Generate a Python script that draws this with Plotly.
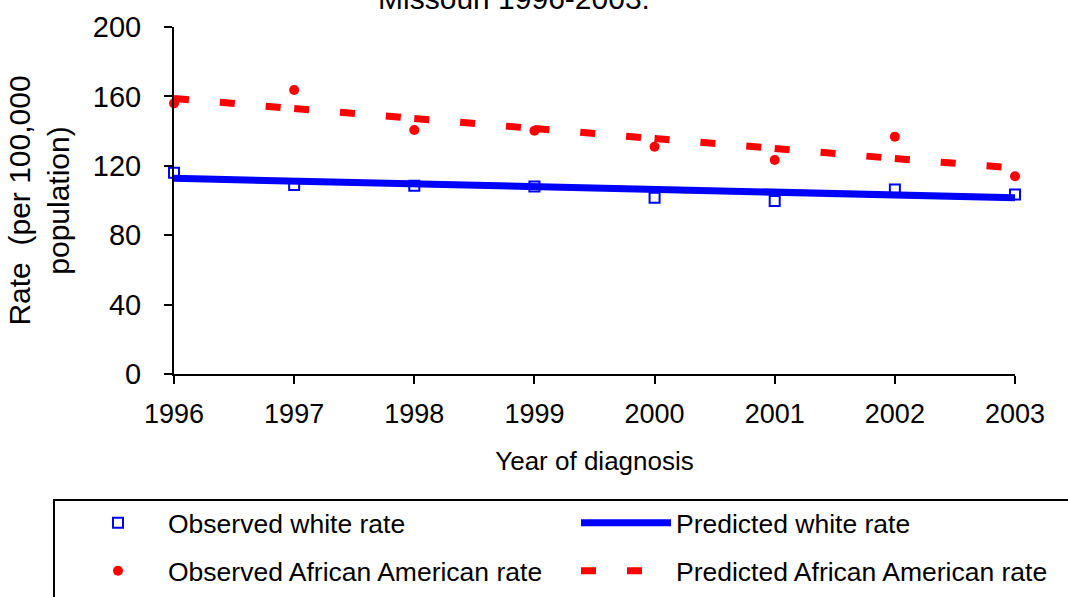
import plotly.graph_objects as go

years = [1996, 1997, 1998, 1999, 2000, 2001, 2002, 2003]
observed_white = [116.0, 109.0, 108.5, 108.0, 101.6, 99.7, 106.4, 103.5]
predicted_white = [112.8, 111.2, 109.6, 108.0, 106.4, 104.8, 103.2, 101.6]
observed_aa = [156.0, 163.7, 140.6, 140.2, 131.0, 123.3, 136.8, 114.0]
predicted_aa = [158.8, 153.0, 147.3, 141.5, 135.7, 130.0, 124.2, 118.7]

y_ticks = [0, 40, 80, 120, 160, 200]

FONT = "Arial, 'Liberation Sans', sans-serif"
BLUE = "#0000FF"
RED = "#FF0000"


def segmented(xs, ys):
    # each year-to-year segment as its own sub-path so the dash pattern restarts
    sx, sy = [], []
    for i in range(len(xs) - 1):
        sx += [xs[i], xs[i + 1], None]
        sy += [ys[i], ys[i + 1], None]
    return sx, sy


fig = go.Figure()

fig.add_trace(go.Scatter(
    x=years, y=observed_white, mode="markers", name="Observed white rate",
    marker=dict(symbol="square-open", size=10, color=BLUE, line=dict(width=2, color=BLUE)),
    cliponaxis=False, legend="legend",
))
fig.add_trace(go.Scatter(
    x=years, y=predicted_white, mode="lines", name="Predicted white rate",
    line=dict(color=BLUE, width=7), cliponaxis=False, legend="legend",
))
fig.add_trace(go.Scatter(
    x=years, y=observed_aa, mode="markers", name="Observed African American rate",
    marker=dict(symbol="circle", size=10, color=RED),
    cliponaxis=False, legend="legend2",
))
sx, sy = segmented(years, predicted_aa)
fig.add_trace(go.Scatter(
    x=sx, y=sy, mode="lines", name="Predicted African American rate",
    line=dict(color=RED, width=7, dash="15px,31px"), connectgaps=False,
    cliponaxis=False, legend="legend2",
))

W, H = 1068, 597
L, R, T, B = 174, 53, 27, 223
pw, ph = W - L - R, H - T - B


def px_x(p):
    return (p - L) / pw


def px_y(p):
    return (H - B - p) / ph


legend_common = dict(
    orientation="h", xanchor="left", yanchor="middle",
    x=px_x(68), entrywidth=403, entrywidthmode="pixels", itemwidth=90,
    font=dict(family=FONT, size=26.5, color="black"),
    bgcolor="rgba(0,0,0,0)", borderwidth=0, traceorder="normal",
)

axis_common = dict(
    showline=True, linecolor="black", linewidth=2, mirror=False,
    ticks="outside", ticklen=8, tickwidth=2, tickcolor="black",
    showgrid=False, zeroline=False,
)

fig.update_layout(
    width=W, height=H,
    margin=dict(l=L, r=R, t=T, b=B, autoexpand=False),
    paper_bgcolor="white", plot_bgcolor="white",
    font=dict(family=FONT, color="black"),
    title=dict(
        text="Missouri 1996-2003.", x=514 / W, xanchor="center", xref="container",
        y=1 - 9 / H, yanchor="bottom", yref="container",
        font=dict(family=FONT, size=30, color="black"),
    ),
    xaxis=dict(
        range=[1996, 2003], tickmode="array", tickvals=years,
        ticktext=[str(y) for y in years], ticklabelstandoff=7,
        tickfont=dict(family=FONT, size=27, color="black"),
        title=dict(text="Year of diagnosis", standoff=23,
                   font=dict(family=FONT, size=26, color="black")),
        **axis_common,
    ),
    yaxis=dict(
        range=[0, 200], tickmode="array", tickvals=y_ticks, ticklabelstandoff=17,
        tickfont=dict(family=FONT, size=29, color="black"),
        title=dict(text="Rate  (per 100,000<br>population)", standoff=14,
                   font=dict(family=FONT, size=30, color="black")),
        **axis_common,
    ),
    legend=dict(y=px_y(523), **legend_common),
    legend2=dict(y=px_y(571), **legend_common),
    showlegend=True,
)

fig.add_shape(
    type="rect", xref="paper", yref="paper",
    x0=px_x(54), x1=px_x(1090), y0=px_y(500), y1=px_y(640),
    line=dict(color="black", width=2), fillcolor="rgba(0,0,0,0)", layer="above",
)

fig.write_html("out.html", config={"displayModeBar": False},
               post_script="document.body.style.margin='0';")
